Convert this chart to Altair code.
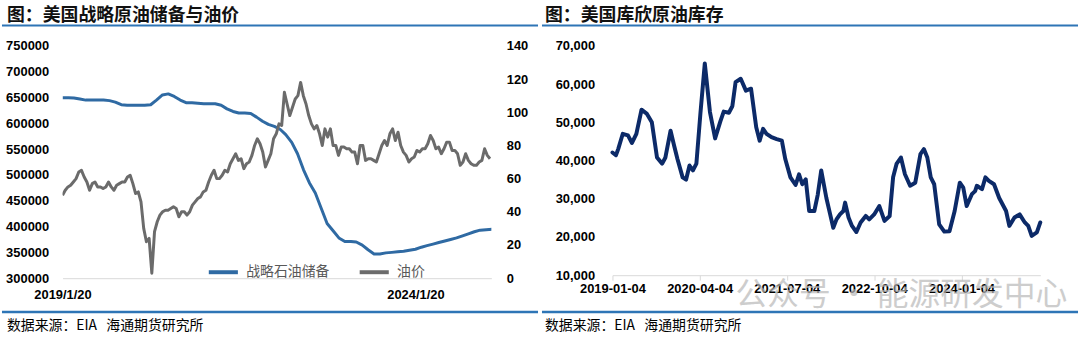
import altair as alt
import pandas as pd

# ---------------- data ----------------
left_title = "图：美国战略原油储备与油价"
right_title = "图：美国库欣原油库存"
source_text = "数据来源：EIA\u00a0\u00a0\u00a0海通期货研究所"
watermark_text = "公众号\u00a0·\u00a0能源研发中心"
spr_name = "战略石油储备"
oil_name = "油价"

# WTI price, every 14 days from 2019-01-20
oil_start = "2019-01-20"
oil_price = [
    50, 53, 55, 56, 58, 60, 64, 65, 61, 58,
    53, 57, 58, 55, 55, 54, 55, 58, 55, 53,
    56, 57, 58, 58, 61, 62, 57, 51, 52, 46,
    30, 22, 24, 3, 28, 34, 38, 40, 41, 41,
    42, 43, 42, 37, 40, 40, 38, 40, 44, 46,
    48, 49, 52, 53, 58, 62, 65, 60, 60, 62,
    65, 64, 69, 72, 75, 71, 72, 66, 69, 70,
    74, 80, 84, 81, 76, 67, 71, 75, 84, 87,
    93, 92, 112, 105, 98, 103, 108, 110, 118, 110,
    105, 98, 93, 90, 92, 87, 80, 90, 85, 90,
    80, 80, 74, 79, 79, 78, 78, 76, 76, 69,
    80, 80, 71, 72, 72, 71, 70, 75, 80, 83,
    80, 87, 90, 83, 88, 80, 76, 74, 70, 72,
    73, 77, 76, 78, 78, 81, 86, 83, 78, 79,
    75, 78, 82, 82, 77, 77, 75, 68, 70, 75,
    71, 69, 68, 68, 70, 71, 78, 74, 72,
]

# SPR stocks (thousand barrels), monthly on the 20th from 2019-01-20
spr_start = "2019-01-20"
spr_kbbl = [
    649500, 649500, 649000, 647000, 645000, 645000, 645000, 645000, 644000, 641000, 636000, 635000,
    635000, 635000, 635000, 636000, 645000, 655000, 657000, 652000, 645000, 640000, 640000, 639000,
    638000, 638000, 638000, 635000, 628000, 623000, 620000, 620000, 619000, 612000, 604000, 598000,
    594000, 588000, 578000, 563000, 541000, 510000, 485000, 465000, 435000, 406000, 392000, 378000,
    371000, 371000, 370000, 364000, 355000, 347000, 347000, 349000, 350000, 351000, 352000, 354000,
    356000, 360000, 363000, 366000, 369000, 372000, 375000, 378000, 382000, 386000, 390000, 393000,
    394000, 395000,
]

# Cushing stocks (thousand barrels)
cushing_dates = [
    "2019-01-04", "2019-01-22", "2019-02-03", "2019-02-27", "2019-03-26", "2019-04-16",
    "2019-05-09", "2019-06-05", "2019-07-02", "2019-07-29", "2019-08-25", "2019-09-21",
    "2019-10-08", "2019-11-04", "2019-11-22", "2019-12-10", "2020-01-06", "2020-01-24",
    "2020-02-11", "2020-02-29", "2020-03-18", "2020-04-08", "2020-05-01", "2020-05-28",
    "2020-06-24", "2020-07-21", "2020-08-08", "2020-09-04", "2020-09-22", "2020-10-09",
    "2020-11-05", "2020-12-02", "2020-12-29", "2021-01-25", "2021-02-12", "2021-03-02",
    "2021-03-20", "2021-04-15", "2021-05-12", "2021-06-08", "2021-06-26", "2021-07-23",
    "2021-08-19", "2021-09-06", "2021-09-23", "2021-10-11", "2021-10-29", "2021-11-25",
    "2021-12-13", "2021-12-31", "2022-01-27", "2022-02-14", "2022-03-04", "2022-03-21",
    "2022-04-08", "2022-04-26", "2022-05-05", "2022-05-23", "2022-06-10", "2022-07-03",
    "2022-07-25", "2022-08-21", "2022-09-08", "2022-10-04", "2022-10-31", "2022-11-27",
    "2022-12-24", "2023-01-11", "2023-01-29", "2023-02-21", "2023-03-14", "2023-04-10",
    "2023-05-07", "2023-06-03", "2023-06-21", "2023-07-09", "2023-07-27", "2023-08-14",
    "2023-09-09", "2023-10-06", "2023-11-02", "2023-11-29", "2023-12-26", "2024-01-13",
    "2024-01-31", "2024-02-27", "2024-03-15", "2024-03-24", "2024-04-20", "2024-05-08",
    "2024-05-26", "2024-06-22", "2024-07-19", "2024-08-24", "2024-09-10", "2024-10-07",
    "2024-11-03", "2024-11-30", "2024-12-18", "2025-01-05", "2025-02-01", "2025-02-19",
]
cushing_kbbl = [
    42100, 41400, 43000, 47000, 46600, 44600,
    47000, 53300, 52300, 50000, 40800, 39200,
    40800, 47800, 44000, 40400, 35600, 35000,
    38700, 37400, 39200, 52300, 65400, 52700,
    45800, 50200, 52800, 52500, 54200, 60500,
    61400, 58300, 58800, 48700, 45200, 48300,
    47000, 46100, 45600, 45200, 40400, 35600,
    33600, 36400, 33800, 35100, 26800, 26800,
    31100, 37400, 30200, 26300, 22400, 24600,
    25900, 26800, 29000, 25100, 22900, 21300,
    23800, 25500, 24600, 25900, 28100, 24200,
    25500, 35600, 39100, 40800, 36400, 33400,
    34200, 41700, 43000, 40800, 35600, 33800,
    23300, 21400, 21500, 26800, 34200, 32900,
    28100, 31200, 32000, 33400, 32500, 35600,
    34700, 33800, 30200, 26800, 22900, 25100,
    25900, 23800, 22900, 20300, 21200, 23800,
]

left_x_ticks = ["2019-01-20", "2024-01-20"]
left_x_end = "2025-02-16"
right_x_ticks = ["2019-01-04", "2020-04-04", "2021-07-04", "2022-10-04", "2024-01-04"]
right_x_end = "2025-02-19"

# ---------------- styles ----------------
BLUE_SPR = "#2f6aa3"
GRAY_OIL = "#6b6b6b"
NAVY = "#0c2a68"
DIVIDER = "#2e75b6"
AXIS_FONT = "Liberation Sans"
CJK = "Noto Sans CJK SC"


def dt(s):
    y, m, d = (int(p) for p in s.split("-"))
    return alt.DateTime(year=y, month=m, date=d)


oil_df = pd.DataFrame({
    "date": pd.date_range(oil_start, periods=len(oil_price), freq="14D"),
    "v": oil_price,
    "s": oil_name,
})
spr_df = pd.DataFrame({
    "date": pd.date_range(spr_start, periods=len(spr_kbbl), freq=pd.DateOffset(months=1)),
    "v": spr_kbbl,
    "s": spr_name,
})
cush_df = pd.DataFrame({"date": pd.to_datetime(cushing_dates), "v": cushing_kbbl})

one = pd.DataFrame({"t": [""]})


def text_layer(txt, x, y, size, weight="normal", color="#000000", font=CJK, opacity=1.0):
    return alt.Chart(pd.DataFrame({"t": [txt]})).mark_text(
        align="left", baseline="middle", fontSize=size, fontWeight=weight,
        color=color, font=font, opacity=opacity,
    ).encode(x=alt.value(x), y=alt.value(y), text="t:N")


def rule_layer(x1, x2, y, color, width):
    return alt.Chart(one).mark_rule(color=color, strokeWidth=width, strokeCap="butt").encode(
        x=alt.value(x1), x2=alt.value(x2), y=alt.value(y)
    )


label_style = dict(labelFont=AXIS_FONT, labelFontWeight="bold", labelFontSize=13,
                   labelColor="#000000", title=None, grid=False)

# ---------------- left panel ----------------
WL, HL = 432, 234
x_left = alt.X(
    "date:T",
    scale=alt.Scale(domain=[dt(left_x_ticks[0]), dt(left_x_end)]),
    axis=alt.Axis(values=[dt(s) for s in left_x_ticks], format="%Y/%-m/%-d", labelAngle=0,
                  ticks=False, domainColor="#d9d9d9", domainWidth=1, labelPadding=10,
                  labelFlush=False, labelOverlap=False, **label_style),
)
color_enc = alt.Color(
    "s:N",
    scale=alt.Scale(domain=[spr_name, oil_name], range=[BLUE_SPR, GRAY_OIL]),
    legend=alt.Legend(orient="none", legendX=145, legendY=211, direction="horizontal",
                      title=None, symbolType="stroke", symbolSize=860, symbolStrokeWidth=4,
                      labelFont=CJK, labelFontSize=14, labelColor="#595959",
                      labelOffset=6, columnPadding=22),
)

spr_line = alt.Chart(spr_df).mark_line(strokeWidth=3, clip=True, strokeJoin="round").encode(
    x=x_left,
    y=alt.Y("v:Q", scale=alt.Scale(domain=[300000, 750000], nice=False, zero=False),
            axis=alt.Axis(orient="left", values=list(range(300000, 750001, 50000)), format="d",
                          ticks=False, domain=False, labelPadding=14, **label_style)),
    color=color_enc,
)
oil_line = alt.Chart(oil_df).mark_line(strokeWidth=3, clip=True, strokeJoin="round").encode(
    x=x_left,
    y=alt.Y("v:Q", scale=alt.Scale(domain=[0, 140], nice=False),
            axis=alt.Axis(orient="right", values=list(range(0, 141, 20)), format="d",
                          ticks=False, domain=False, labelPadding=15, **label_style)),
    color=color_enc,
)

left_lines = alt.layer(spr_line, oil_line).resolve_scale(y="independent")

left = alt.layer(
    rule_layer(-61, 479, -44.5, "#ffffff", 1),
    left_lines,
    text_layer(left_title, -56, -30, 18, weight="bold", color="#111111"),
    rule_layer(-61, 479, -20.5, DIVIDER, 2),
    rule_layer(-61, 479, 268, DIVIDER, 2.5),
    text_layer(source_text, -56, 282, 14, color="#000000"),
).properties(width=WL, height=HL)

# ---------------- right panel ----------------
WR, HR = 431, 231
cush_line = alt.Chart(cush_df).mark_line(strokeWidth=4, color=NAVY, strokeJoin="round",
                                         strokeCap="round").encode(
    x=alt.X("date:T",
            scale=alt.Scale(domain=[dt(right_x_ticks[0]), dt(right_x_end)]),
            axis=alt.Axis(values=[dt(s) for s in right_x_ticks], format="%Y-%m-%d", labelAngle=0,
                          ticks=True, tickSize=5, tickColor="#d9d9d9", domainColor="#d9d9d9",
                          domainWidth=1, labelPadding=2, labelFlush=False, labelOverlap=False,
                          **label_style)),
    y=alt.Y("v:Q", scale=alt.Scale(domain=[10000, 70000], nice=False, zero=False),
            axis=alt.Axis(values=list(range(10000, 70001, 10000)), format=",.0f", ticks=False,
                          domain=False, labelPadding=18, **label_style)),
)

right = alt.layer(
    rule_layer(-71, 469, -44.5, "#ffffff", 1),
    cush_line,
    text_layer(right_title, -68, -30, 18, weight="bold", color="#111111"),
    rule_layer(-71, 469, -20.5, DIVIDER, 2),
    rule_layer(-71, 469, 268, DIVIDER, 2.5),
    text_layer(source_text, -68, 282, 14, color="#000000"),
    text_layer(watermark_text, 124, 251, 32, color="#b8b8b8", opacity=0.7),
).properties(width=WR, height=HR)

chart = alt.hconcat(left, right, spacing=0, padding=0, background="#ffffff").configure_view(
    stroke=None
)

chart.save("out.html", embed_options={"renderer": "svg", "actions": False})
